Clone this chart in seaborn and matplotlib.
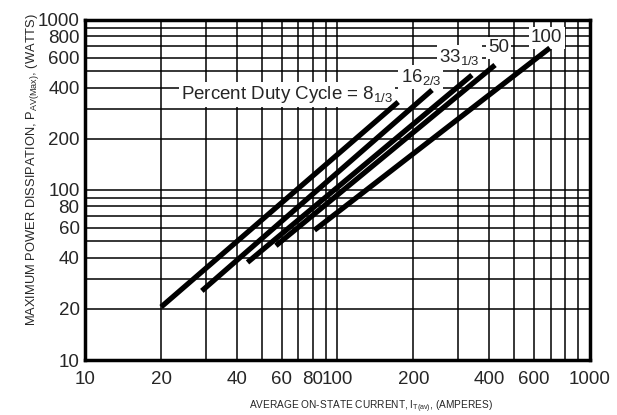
import matplotlib
matplotlib.use("Agg")
import matplotlib.pyplot as plt
import seaborn as sns
import pandas as pd

# values (average current in A, power in W)
duty_labels = ["8 1/3", "16 2/3", "33 1/3", "50", "100"]
start_current = [20, 29, 44, 57, 81]
start_power = [20.5, 25.5, 37.5, 47, 58]
end_current = [174, 237, 341, 421, 694]
end_power = [329, 387, 474, 543, 684]

x_ticks = [10, 20, 40, 60, 80, 100, 200, 400, 600, 1000]
y_ticks = [10, 20, 40, 60, 80, 100, 200, 400, 600, 800, 1000]

rows = []
for i, d in enumerate(duty_labels):
    rows.append({"duty": d, "current": start_current[i], "power": start_power[i]})
    rows.append({"duty": d, "current": end_current[i], "power": end_power[i]})
df = pd.DataFrame(rows)

sns.set_style("white")
plt.rcParams["font.family"] = ["Liberation Sans", "DejaVu Sans"]
plt.rcParams["mathtext.fontset"] = "custom"
plt.rcParams["mathtext.rm"] = "Liberation Sans"
plt.rcParams["mathtext.it"] = "Liberation Sans"

fig = plt.figure(figsize=(6.17, 4.15), dpi=100)
ax = fig.add_axes([0.138, 0.1325, 0.818, 0.8195])

ax.set_xscale("log")
ax.set_yscale("log")
ax.set_xlim(10, 1000)
ax.set_ylim(10, 1000)

sns.lineplot(data=df, x="current", y="power", units="duty", estimator=None,
             color="black", linewidth=3.8, solid_capstyle="butt",
             legend=False, ax=ax, zorder=5)

ax.grid(True, which="both", color="black", linewidth=1.1)
ax.set_axisbelow(True)
ax.set_xticks(x_ticks)
ax.set_xticklabels([str(v) for v in x_ticks])
ax.set_yticks(y_ticks)
ax.set_yticklabels([str(v) for v in y_ticks])
ax.tick_params(which="both", length=0, labelsize=13.5)
ax.tick_params(axis="x", pad=8)
ax.tick_params(axis="y", pad=4)
ax.xaxis.set_minor_formatter(plt.NullFormatter())
ax.yaxis.set_minor_formatter(plt.NullFormatter())
for s in ax.spines.values():
    s.set_linewidth(2.5)
    s.set_color("black")

ax.set_xlabel(r"AVERAGE ON-STATE CURRENT, I$_{\mathregular{T(av)}}$, (AMPERES)",
              fontsize=7.3)
ax.xaxis.set_label_coords(0.566, -0.113)
ax.set_ylabel(r"MAXIMUM POWER DISSIPATION, P$_{\mathregular{AV(Max)}}$, (WATTS)",
              fontsize=9.3)
ax.yaxis.set_label_coords(-0.087, 0.559)

box = dict(facecolor="white", edgecolor="none", pad=1.5)
ax.text(166, 365, r"Percent Duty Cycle = 8$_{\mathregular{1/3}}$", fontsize=13.5,
        ha="right", va="center", bbox=box, zorder=4)
ax.text(214, 462, r"16$_{\mathregular{2/3}}$", fontsize=13.5, ha="center",
        va="center", bbox=box, zorder=4)
ax.text(305, 606, r"33$_{\mathregular{1/3}}$", fontsize=13.5, ha="center",
        va="center", bbox=box, zorder=4)
ax.text(436, 684, "50", fontsize=13.5, ha="center", va="center", bbox=box, zorder=4)
ax.text(675, 783, "100", fontsize=13.5, ha="center", va="center", bbox=box, zorder=4)

fig.savefig("out.png", dpi=100)
